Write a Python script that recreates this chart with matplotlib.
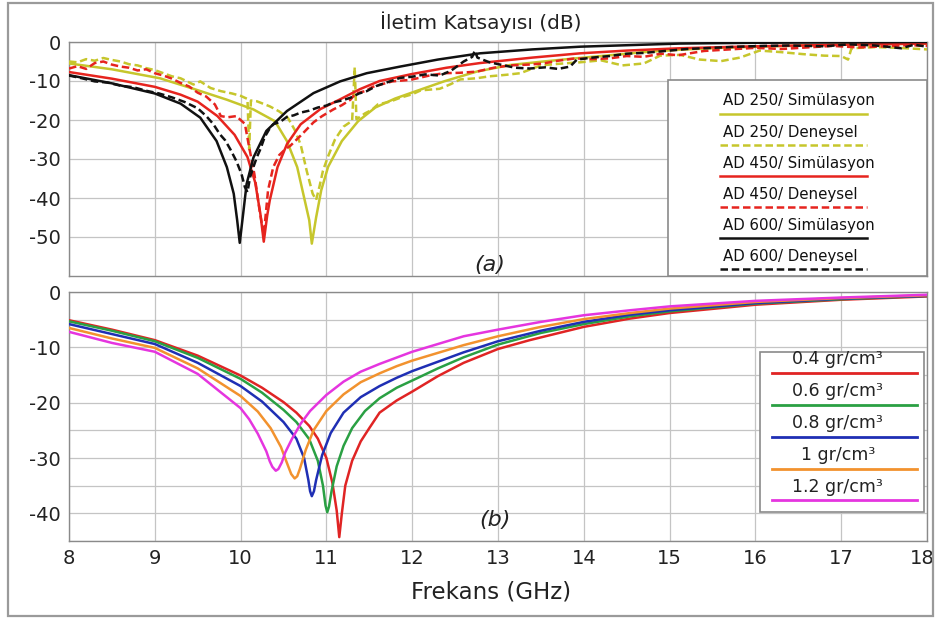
import matplotlib
matplotlib.use("Agg")
import matplotlib.pyplot as plt
from matplotlib.patches import Rectangle
from matplotlib.lines import Line2D
from matplotlib.transforms import ScaledTranslation

plt.rcParams["font.family"] = ["DejaVu Sans"]
plt.rcParams["axes.unicode_minus"] = False

# ---- panel (a): AD samples, simulation vs measurement ----
ad250_sim_f = [8.0, 8.5, 9.06, 9.45, 9.84, 10.15, 10.4, 10.54, 10.66, 10.73, 10.8, 10.83,
               10.88, 10.94, 11.02, 11.18, 11.37, 11.57, 11.8, 11.98, 12.37, 12.75, 13.14,
               13.53, 13.9, 14.3, 14.7, 15.1, 15.6, 16.2, 17.0, 18.0]
ad250_sim_db = [-5.5, -7.0, -9.3, -12.0, -14.8, -17.3, -20.3, -25.4, -32.1, -38.9, -45.7, -51.7,
                -45.0, -38.0, -32.0, -25.4, -20.3, -16.8, -14.5, -13.1, -10.1, -7.6, -5.9,
                -5.0, -4.2, -3.4, -2.6, -2.0, -1.5, -1.1, -0.7, -0.4]

ad250_exp_f = [8.0, 8.1, 8.2, 8.3, 8.4, 8.5, 8.6, 8.7, 8.8, 8.9, 9.0, 9.1, 9.2, 9.3, 9.45, 9.53,
               9.65, 9.77, 9.9, 10.0, 10.08, 10.1, 10.12, 10.19, 10.34, 10.45, 10.55, 10.63,
               10.7, 10.77, 10.84, 10.88, 10.92, 10.96, 11.02, 11.1, 11.2, 11.3, 11.33, 11.35,
               11.45, 11.53, 11.6, 11.74, 11.86, 12.0, 12.1, 12.32, 12.45, 12.56, 12.75, 12.9,
               13.1, 13.26, 13.5, 13.7, 13.96, 14.2, 14.45, 14.7, 14.89, 15.12, 15.35, 15.6,
               15.82, 16.05, 16.3, 16.55, 16.8, 17.0, 17.08, 17.12, 17.4, 17.67, 18.0]
ad250_exp_db = [-5.0, -5.2, -4.4, -4.8, -4.1, -4.6, -5.0, -5.7, -6.0, -6.7, -7.2, -8.0, -8.8,
                -9.3, -10.9, -10.1, -11.8, -12.6, -13.2, -13.8, -14.6, -27.5, -15.0, -15.2,
                -16.5, -17.8, -19.4, -22.5, -26.3, -33.0, -38.9, -40.5, -37.0, -33.0, -29.3,
                -25.0, -21.7, -20.2, -6.5, -19.8, -18.3, -17.4, -16.0, -15.3, -14.3, -13.4,
                -12.4, -12.0, -10.8, -9.6, -9.3, -8.8, -8.4, -8.0, -6.0, -5.6, -5.2, -4.7,
                -6.0, -5.5, -3.5, -3.3, -4.5, -4.9, -4.0, -2.2, -2.6, -3.1, -3.5, -3.6, -4.5,
                -1.6, -1.3, -1.5, -1.9]

ad450_sim_f = [8.0, 8.5, 9.0, 9.3, 9.5, 9.73, 9.93, 10.08, 10.17, 10.23, 10.27, 10.31, 10.34,
               10.43, 10.54, 10.7, 10.93, 11.16, 11.39, 11.62, 12.0, 12.4, 12.79, 13.4, 13.96,
               14.5, 15.12, 16.0, 17.0, 18.0]
ad450_sim_db = [-7.7, -9.4, -11.5, -13.5, -15.3, -19.0, -23.8, -29.5, -36.0, -44.0, -51.2,
                -44.5, -40.6, -32.1, -26.2, -21.1, -17.2, -14.7, -12.1, -10.0, -8.2, -6.6,
                -5.4, -4.0, -2.9, -2.2, -1.6, -1.1, -0.7, -0.4]

ad450_exp_f = [8.0, 8.1, 8.2, 8.3, 8.4, 8.5, 8.6, 8.7, 8.8, 8.9, 9.0, 9.1, 9.2, 9.3, 9.4, 9.5,
               9.6, 9.7, 9.77, 9.85, 9.95, 10.05, 10.1, 10.16, 10.22, 10.27, 10.32, 10.38,
               10.45, 10.52, 10.58, 10.7, 10.85, 10.95, 11.08, 11.18, 11.28, 11.34, 11.45,
               11.54, 11.65, 11.77, 11.98, 12.2, 12.37, 12.55, 12.75, 12.95, 13.14, 13.35,
               13.53, 13.7, 13.9, 14.1, 14.3, 14.5, 14.7, 14.9, 15.1, 15.4, 15.7, 16.0, 16.3,
               16.6, 16.9, 17.2, 17.5, 17.8, 18.0]
ad450_exp_db = [-6.8, -6.2, -6.9, -5.4, -5.0, -5.8, -6.3, -6.6, -7.3, -7.0, -8.0, -8.6, -9.4,
                -10.5, -11.4, -13.0, -14.0, -16.0, -19.0, -19.3, -19.0, -21.0, -27.0, -33.8,
                -43.0, -49.5, -38.0, -32.1, -29.0, -27.5, -26.6, -24.0, -20.6, -19.0, -17.3,
                -16.2, -14.8, -13.2, -12.6, -11.5, -10.8, -10.1, -9.7, -8.6, -8.0, -7.9, -7.6,
                -6.6, -6.0, -5.8, -5.5, -4.8, -4.2, -4.4, -4.2, -3.6, -3.8, -3.0, -3.4, -2.3,
                -1.9, -1.5, -1.8, -1.4, -1.0, -1.4, -1.1, -0.8, -1.0]

ad600_sim_f = [8.0, 8.5, 9.0, 9.3, 9.53, 9.72, 9.84, 9.92, 9.96, 9.99, 10.03, 10.07, 10.15,
               10.3, 10.54, 10.85, 11.16, 11.47, 11.86, 12.3, 12.79, 13.4, 13.96, 15.12, 16.0,
               17.0, 18.0]
ad600_sim_db = [-8.5, -10.6, -13.2, -15.8, -19.4, -25.4, -32.1, -38.9, -45.7, -51.5, -44.0,
                -36.4, -29.6, -22.8, -17.7, -13.1, -10.1, -8.0, -6.3, -4.5, -2.9, -1.9, -1.2,
                -0.4, -0.2, -0.1, 0.0]

ad600_exp_f = [8.0, 8.15, 8.3, 8.45, 8.6, 8.75, 8.9, 9.05, 9.2, 9.35, 9.5, 9.6, 9.68, 9.76,
               9.82, 9.88, 9.95, 10.01, 10.05, 10.08, 10.11, 10.15, 10.19, 10.23, 10.28, 10.33,
               10.38, 10.46, 10.54, 10.62, 10.7, 10.8, 10.9, 11.0, 11.08, 11.18, 11.28, 11.38,
               11.47, 11.58, 11.7, 11.86, 12.0, 12.15, 12.32, 12.45, 12.6, 12.7, 12.73, 12.76,
               12.9, 13.05, 13.2, 13.37, 13.55, 13.7, 13.84, 13.92, 14.1, 14.3, 14.5, 14.7,
               14.9, 15.2, 15.5, 15.8, 16.1, 16.4, 16.8, 17.1, 17.4, 17.7, 17.85, 18.0]
ad600_exp_db = [-8.6, -9.3, -10.1, -10.4, -11.2, -11.6, -12.5, -13.2, -14.2, -15.4, -17.0,
                -19.0, -21.0, -23.7, -25.2, -27.5, -30.5, -33.8, -37.2, -38.5, -34.7, -32.0,
                -29.5, -27.5, -24.4, -22.5, -21.1, -20.5, -19.2, -18.8, -18.1, -17.6, -16.8,
                -16.3, -15.5, -15.0, -14.3, -13.2, -12.6, -11.3, -10.4, -9.2, -8.9, -8.3, -8.6,
                -7.4, -5.0, -3.8, -2.2, -4.0, -5.2, -5.9, -6.6, -6.8, -6.5, -6.9, -6.3, -4.5,
                -4.0, -3.6, -3.0, -2.8, -2.4, -1.8, -1.5, -1.2, -1.0, -0.9, -1.1, -0.6, -0.9,
                -1.6, -0.7, -1.2]

labels_a = ["AD 250/ Simülasyon", "AD 250/ Deneysel", "AD 450/ Simülasyon",
            "AD 450/ Deneysel", "AD 600/ Simülasyon", "AD 600/ Deneysel"]

# ---- panel (b): density sweep ----
d04_f = [8.0, 8.5, 9.0, 9.5, 10.0, 10.25, 10.5, 10.65, 10.8, 10.9, 11.0, 11.07, 11.12, 11.15,
         11.18, 11.22, 11.3, 11.4, 11.5, 11.62, 11.82, 12.0, 12.3, 12.6, 13.0, 13.37, 14.0,
         14.54, 15.0, 16.0, 17.0, 18.0]
d04_db = [-5.1, -6.8, -8.7, -11.5, -15.1, -17.3, -19.9, -21.8, -24.2, -26.5, -30.0, -34.5,
          -39.5, -44.3, -40.0, -35.0, -30.5, -27.0, -24.6, -21.8, -19.6, -18.0, -15.2, -12.8,
          -10.3, -8.7, -6.3, -4.8, -3.8, -2.3, -1.4, -0.8]

d06_f = [8.0, 8.5, 9.0, 9.5, 10.0, 10.25, 10.5, 10.65, 10.8, 10.9, 10.96, 10.99, 11.01, 11.03,
         11.06, 11.12, 11.2, 11.3, 11.45, 11.62, 11.82, 12.0, 12.3, 12.6, 13.0, 13.5, 14.0,
         14.54, 15.0, 16.0, 17.0, 18.0]
d06_db = [-5.3, -7.0, -8.9, -11.9, -15.7, -18.2, -21.3, -23.5, -26.6, -30.5, -35.0, -38.6,
          -39.8, -38.8, -36.0, -31.5, -27.8, -24.6, -21.5, -19.2, -17.3, -16.0, -13.8, -11.8,
          -9.5, -7.4, -5.8, -4.4, -3.5, -2.1, -1.3, -0.7]

d08_f = [8.0, 8.5, 9.0, 9.5, 10.0, 10.25, 10.5, 10.65, 10.74, 10.79, 10.81, 10.83, 10.855,
         10.88, 10.95, 11.05, 11.2, 11.4, 11.62, 11.82, 12.0, 12.3, 12.6, 13.0, 13.5, 14.0,
         14.54, 15.0, 16.0, 17.0, 18.0]
d08_db = [-5.8, -7.6, -9.4, -12.8, -17.0, -19.8, -23.5, -26.5, -30.0, -34.0, -36.0, -36.9,
          -36.0, -34.0, -29.5, -25.5, -21.8, -19.0, -17.0, -15.5, -14.3, -12.6, -10.9, -8.9,
          -7.0, -5.4, -4.1, -3.3, -2.0, -1.2, -0.7]

d10_f = [8.0, 8.5, 9.0, 9.5, 10.0, 10.2, 10.35, 10.47, 10.55, 10.59, 10.63, 10.66, 10.69,
         10.76, 10.85, 11.0, 11.2, 11.4, 11.62, 11.82, 12.0, 12.3, 12.6, 13.0, 13.5, 14.0,
         14.54, 15.0, 16.0, 17.0, 18.0]
d10_db = [-6.5, -8.4, -10.1, -13.8, -18.8, -21.6, -24.6, -28.0, -31.3, -32.9, -33.7, -33.3,
          -32.0, -28.5, -25.0, -21.5, -18.5, -16.3, -14.7, -13.4, -12.4, -11.0, -9.6, -8.0,
          -6.3, -4.9, -3.8, -3.0, -1.8, -1.1, -0.6]

d12_f = [8.0, 8.5, 9.0, 9.5, 10.0, 10.1, 10.2, 10.3, 10.34, 10.37, 10.41, 10.44, 10.48, 10.52,
         10.6, 10.7, 10.81, 11.0, 11.2, 11.4, 11.62, 12.0, 12.3, 12.6, 13.0, 13.5, 14.0,
         14.54, 15.0, 16.0, 17.0, 18.0]
d12_db = [-7.2, -9.2, -10.8, -14.8, -21.0, -23.0, -25.6, -28.8, -30.6, -31.6, -32.3, -32.0,
          -30.8, -29.0, -26.5, -23.8, -21.5, -18.6, -16.2, -14.4, -13.0, -10.8, -9.4, -8.0,
          -6.8, -5.4, -4.2, -3.3, -2.6, -1.6, -1.0, -0.5]

labels_b = ["0.4 gr/cm³", "0.6 gr/cm³", "0.8 gr/cm³", "1 gr/cm³", "1.2 gr/cm³"]

YEL = "#c6c62c"
RED = "#e6241e"
BLK = "#111111"
colors_b = ["#e02424", "#2aa043", "#1f2fb4", "#f2922e", "#e535df"]
GRID = "#c4c4c4"
FRAME = "#8a8a8a"
DASH = (0, (3, 1.5))

fig = plt.figure(figsize=(9.35, 6.19), dpi=100, facecolor="white")
W, H = 935.0, 619.0

# outer frame of the picture
fig.patches.append(Rectangle((8 / W, 1 - 616 / H), 925 / W, 613 / H, transform=fig.transFigure,
                             fill=False, edgecolor="#9a9a9a", linewidth=1.6))

ax1 = fig.add_axes([69 / W, 1 - 276 / H, 858 / W, 234 / H])
ax2 = fig.add_axes([69 / W, 1 - 541 / H, 858 / W, 249 / H])

ax1.plot(ad250_sim_f, ad250_sim_db, color=YEL, lw=1.8, zorder=3)
ax1.plot(ad250_exp_f, ad250_exp_db, color=YEL, lw=1.8, ls=DASH, zorder=3)
ax1.plot(ad450_sim_f, ad450_sim_db, color=RED, lw=1.8, zorder=4)
ax1.plot(ad450_exp_f, ad450_exp_db, color=RED, lw=1.8, ls=DASH, zorder=4)
ax1.plot(ad600_sim_f, ad600_sim_db, color=BLK, lw=1.8, zorder=5)
ax1.plot(ad600_exp_f, ad600_exp_db, color=BLK, lw=1.8, ls=DASH, zorder=5)

for f, d, c in zip([d04_f, d06_f, d08_f, d10_f, d12_f],
                   [d04_db, d06_db, d08_db, d10_db, d12_db], colors_b):
    ax2.plot(f, d, color=c, lw=1.8, zorder=3)

for ax in (ax1, ax2):
    ax.set_xlim(8, 18)
    ax.set_xticks(range(8, 19))
    ax.grid(True, color=GRID, lw=0.9)
    ax.tick_params(length=0, labelsize=14, pad=6, colors="#222222")
    for s in ax.spines.values():
        s.set_color(FRAME)
        s.set_linewidth(1.0)

ax1.set_ylim(-60, 0)
ax1.set_yticks([0, -10, -20, -30, -40, -50])
ax1.tick_params(axis="x", labelbottom=False)

ax2.set_ylim(-45, 0)
ax2.set_yticks(range(-45, 1, 5))
ax2.set_yticklabels(["" if v % 10 else str(v) for v in range(-45, 1, 5)])

# the "18" label sits against the right edge of the picture
last = ax2.get_xticklabels()[-1]
last.set_transform(last.get_transform() + ScaledTranslation(-5 / 100, 0, fig.dpi_scale_trans))

# legend (a): label text with the line sample underneath
ax1.add_patch(Rectangle((0.698, 0.0), 0.302, 0.838, transform=ax1.transAxes,
                        facecolor="white", edgecolor=FRAME, lw=1.2, zorder=6))
styles_a = [(YEL, "-"), (YEL, DASH), (RED, "-"), (RED, DASH), (BLK, "-"), (BLK, DASH)]
for i, (lab, (c, ls)) in enumerate(zip(labels_a, styles_a)):
    ty = 0.748 - i * 0.133
    ax1.text(0.762, ty, lab, transform=ax1.transAxes, fontsize=10.8, va="center",
             ha="left", zorder=7, color="#111111")
    ax1.add_line(Line2D([0.759, 0.930], [ty - 0.054, ty - 0.054], transform=ax1.transAxes,
                        color=c, ls=ls, lw=1.8, zorder=7))

# legend (b)
ax2.add_patch(Rectangle((0.805, 0.116), 0.1915, 0.643, transform=ax2.transAxes,
                        facecolor="white", edgecolor=FRAME, lw=1.2, zorder=6))
for i, (lab, c) in enumerate(zip(labels_b, colors_b)):
    ty = 0.730 - i * 0.128
    ax2.text(0.896, ty, lab, transform=ax2.transAxes, fontsize=12.5, va="center",
             ha="center", zorder=7, color="#222222")
    ax2.add_line(Line2D([0.819, 0.988], [ty - 0.055, ty - 0.055], transform=ax2.transAxes,
                        color=c, lw=2.0, zorder=7))

fig.text(490 / W, 1 - 265 / H, "(a)", fontsize=16, style="italic", ha="center",
         va="center", color="#222222")
fig.text(495 / W, 1 - 520 / H, "(b)", fontsize=16, style="italic", ha="center",
         va="center", color="#222222")

fig.text(481 / W, 1 - 22 / H, "İletim Katsayısı (dB)", fontsize=14.5, ha="center",
         va="center", color="#222222")
fig.text(491 / W, 1 - 592 / H, "Frekans (GHz)", fontsize=16.5, ha="center", va="center",
         color="#222222")

fig.savefig("out.png", dpi=100, facecolor="white")
